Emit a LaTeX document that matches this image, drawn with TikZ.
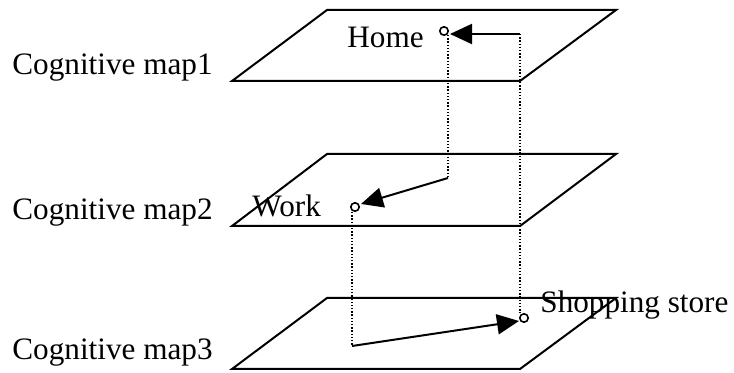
\documentclass[tikz,border=0pt]{standalone}
\usepackage{fontspec}
\setmainfont{Liberation Serif}
\usetikzlibrary{arrows.meta}
\begin{document}
\begin{tikzpicture}[x=0.5pt,y=-0.5pt,
  plane/.style={draw,line width=1pt,line join=miter},
  label/.style={anchor=base west,inner sep=0pt,font=\fontsize{15.6}{19}\selectfont},
  place/.style={circle,draw,line width=0.8pt,minimum size=4.2pt,inner sep=0pt,fill=white},
  link/.style={line width=0.7pt,dash pattern=on 0.7pt off 0.9pt},
  route/.style={line width=1pt,-{Triangle[length=11pt,width=10pt]}}]
\useasboundingbox (0,0) rectangle (734,373);

% the three map planes
\draw[plane] (232,81) -- (520,81) -- (616,10) -- (327,10) -- cycle;
\draw[plane] (232,226) -- (520,226) -- (616,154) -- (327,154) -- cycle;
\draw[plane] (232,369) -- (520,369) -- (616,298) -- (327,298) -- cycle;

% plane captions
\node[label] (m1) at (12,75) {Cognitive map1};
\node[label] (m2) at (12,220) {Cognitive map2};
\node[label] (m3) at (12,360) {Cognitive map3};

% places
\node[label] (thome) at (347,48) {Home};
\node[label] (twork) at (252,217) {Work};
\node[label] (tshop) at (540,313) {Shopping store};

\coordinate (h1) at (520,34);
\coordinate (w1) at (448,178);
\coordinate (s1) at (352,346);

% vertical projections between planes
\draw[link] (h1) -- (h1 |- 0,313);
\draw[link] (w1 |- 0,35) -- (w1);
\draw[link] (s1 |- 0,212) -- (s1);

% routes
\draw[route] (h1) -- (450,34);
\draw[route] (w1) -- (361,204);
\draw[route] (s1) -- (519,321);

\node[place] (home) at (444,31) {};
\node[place] (work) at (355,207) {};
\node[place] (shop) at (524,318) {};
\end{tikzpicture}
\end{document}
